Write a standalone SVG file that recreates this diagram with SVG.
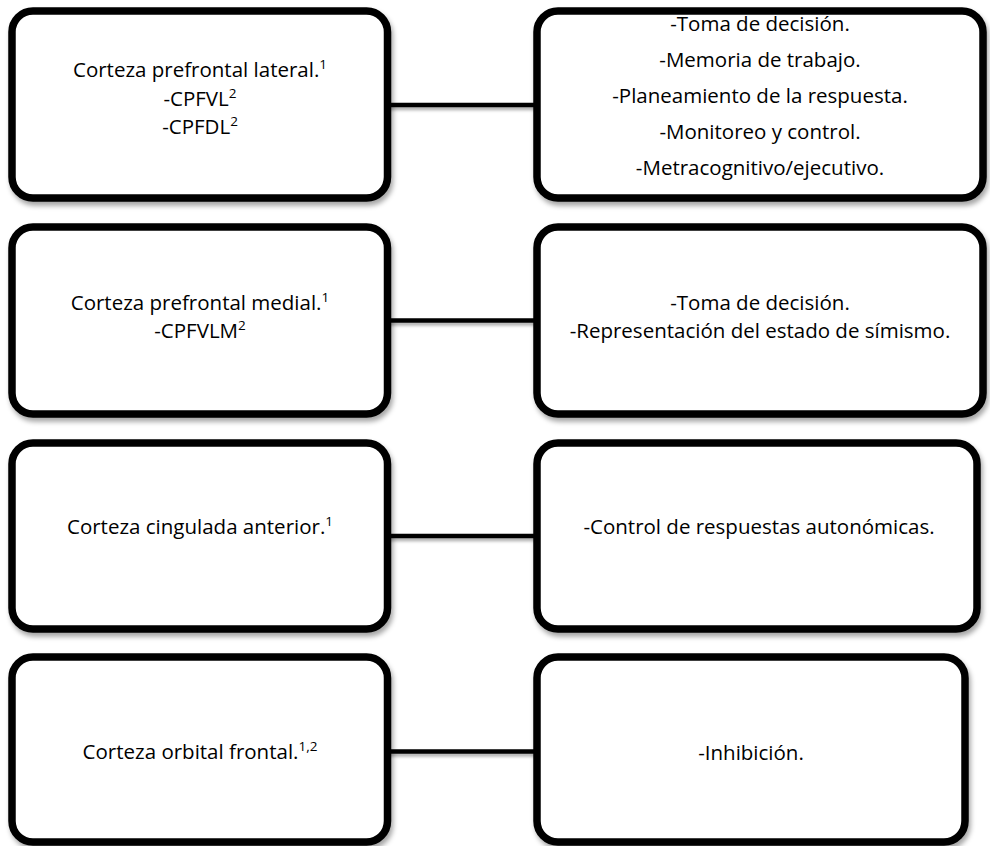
<svg xmlns="http://www.w3.org/2000/svg" width="990" height="846" viewBox="0 0 990 846">
<defs>
<filter id="sh" x="-10%" y="-10%" width="120%" height="130%">
<feDropShadow dx="2" dy="4" stdDeviation="2.5" flood-color="#000" flood-opacity="0.35"/>
</filter>
<filter id="shl" filterUnits="userSpaceOnUse" x="0" y="0" width="990" height="846">
<feDropShadow dx="1" dy="3" stdDeviation="1.5" flood-color="#000" flood-opacity="0.3"/>
</filter>
<style>
.box{fill:#fff;stroke:#000;stroke-width:7.5;filter:url(#sh)}
.t{font-family:"Open Sans","Liberation Sans",sans-serif;font-size:20.5px;fill:#000;text-anchor:middle}
.sup{font-size:13.5px}
.con line{stroke:#000;stroke-width:4.5;filter:url(#shl)}
</style>
</defs>
<rect width="990" height="846" fill="#fff"/>
<g class="con">
<line x1="387" y1="105" x2="537" y2="105"/>
<line x1="387" y1="320.5" x2="537" y2="320.5"/>
<line x1="387" y1="536" x2="537" y2="536"/>
<line x1="387" y1="751.5" x2="537" y2="751.5"/>
</g>
<g id="n1L">
<rect class="box" x="12" y="11" width="375.5" height="187" rx="21"/>
<text class="t" x="200" y="77">Corteza prefrontal lateral.<tspan class="sup" dy="-8">1</tspan></text>
<text class="t" x="200" y="105.5">-CPFVL<tspan class="sup" dy="-8">2</tspan></text>
<text class="t" x="200" y="133.5">-CPFDL<tspan class="sup" dy="-8">2</tspan></text>
</g>
<g id="n1R">
<rect class="box" x="537" y="11" width="446" height="187" rx="21"/>
<text class="t" x="760" y="31">-Toma de decisión.</text>
<text class="t" x="760" y="67">-Memoria de trabajo.</text>
<text class="t" x="760" y="103">-Planeamiento de la respuesta.</text>
<text class="t" x="760" y="139">-Monitoreo y control.</text>
<text class="t" x="760" y="175">-Metracognitivo/ejecutivo.</text>
</g>
<g id="n2L">
<rect class="box" x="12" y="227" width="375.5" height="187" rx="21"/>
<text class="t" x="200" y="310">Corteza prefrontal medial.<tspan class="sup" dy="-8">1</tspan></text>
<text class="t" x="200" y="338">-CPFVLM<tspan class="sup" dy="-8">2</tspan></text>
</g>
<g id="n2R">
<rect class="box" x="537" y="227" width="446" height="187" rx="21"/>
<text class="t" x="760" y="310">-Toma de decisión.</text>
<text class="t" x="760" y="338">-Representación del estado de símismo.</text>
</g>
<g id="n3L">
<rect class="box" x="12" y="443" width="375.5" height="186" rx="21"/>
<text class="t" x="200" y="534">Corteza cingulada anterior.<tspan class="sup" dy="-8">1</tspan></text>
</g>
<g id="n3R">
<rect class="box" x="537" y="443" width="440" height="186" rx="21"/>
<text class="t" x="759" y="534">-Control de respuestas autonómicas.</text>
</g>
<g id="n4L">
<rect class="box" x="12" y="657" width="375.5" height="185" rx="21"/>
<text class="t" x="200" y="759">Corteza orbital frontal.<tspan class="sup" dy="-8">1,2</tspan></text>
</g>
<g id="n4R">
<rect class="box" x="537" y="657" width="428" height="185" rx="21"/>
<text class="t" x="751" y="760">-Inhibición.</text>
</g>
</svg>
